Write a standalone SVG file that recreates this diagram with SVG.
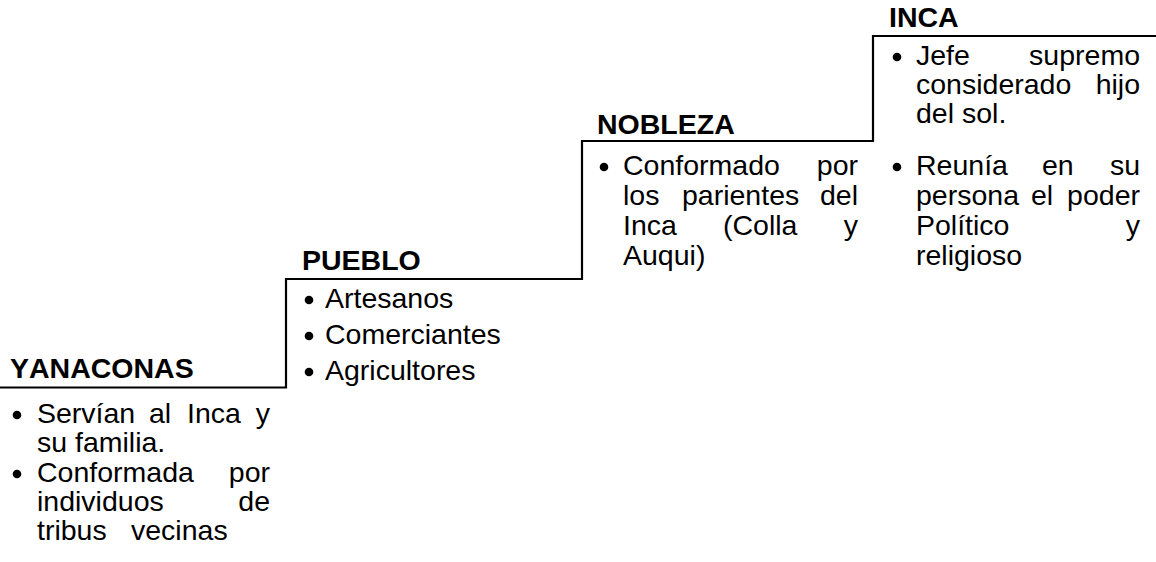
<svg xmlns="http://www.w3.org/2000/svg" width="1156" height="562" viewBox="0 0 1156 562">
<style>
text{font-family:"Liberation Sans",Arial,sans-serif;font-size:28.5px;fill:#000;font-kerning:none}
.h{font-weight:bold;font-size:28.5px}
.e{text-anchor:end}
.bul{fill:#000}
.step{fill:none;stroke:#000;stroke-width:2.2}
</style>
<rect width="1156" height="562" fill="#fff"/>
<g id="connectors">
<path class="step" d="M0,387.5 H286 V279 H582 V141 H873 V36 H1156"/>
</g>
<g id="yanaconas">
<text class="h" x="10" y="378">YANACONAS</text>
<circle class="bul" cx="17" cy="415" r="4.3"/>
<text y="423"><tspan x="37">Servían</tspan><tspan x="149">al</tspan><tspan x="187">Inca</tspan><tspan x="270" class="e">y</tspan></text>
<text x="37" y="452">su familia.</text>
<circle class="bul" cx="17" cy="474" r="4.3"/>
<text y="482"><tspan x="37">Conformada</tspan><tspan x="270" class="e">por</tspan></text>
<text y="511"><tspan x="37">individuos</tspan><tspan x="270" class="e">de</tspan></text>
<text y="540"><tspan x="37">tribus</tspan><tspan x="131">vecinas</tspan></text>
</g>
<g id="pueblo">
<text class="h" x="302" y="270">PUEBLO</text>
<circle class="bul" cx="309" cy="300" r="4.3"/>
<text x="325" y="308">Artesanos</text>
<circle class="bul" cx="309" cy="336" r="4.3"/>
<text x="325" y="344">Comerciantes</text>
<circle class="bul" cx="309" cy="372" r="4.3"/>
<text x="325" y="380">Agricultores</text>
</g>
<g id="nobleza">
<text class="h" x="597" y="134">NOBLEZA</text>
<circle class="bul" cx="604" cy="167" r="4.3"/>
<text y="175"><tspan x="623">Conformado</tspan><tspan x="858" class="e">por</tspan></text>
<text y="205"><tspan x="623">los</tspan><tspan x="682">parientes</tspan><tspan x="858" class="e">del</tspan></text>
<text y="235"><tspan x="623">Inca</tspan><tspan x="723">(Colla</tspan><tspan x="858" class="e">y</tspan></text>
<text x="623" y="265">Auqui)</text>
</g>
<g id="inca">
<text class="h" x="889" y="27">INCA</text>
<circle class="bul" cx="897" cy="57" r="4.3"/>
<text y="65"><tspan x="916">Jefe</tspan><tspan x="1140" class="e">supremo</tspan></text>
<text y="94"><tspan x="916">considerado</tspan><tspan x="1140" class="e">hijo</tspan></text>
<text x="916" y="123">del sol.</text>
<circle class="bul" cx="897" cy="167" r="4.3"/>
<text y="175"><tspan x="916">Reunía</tspan><tspan x="1042">en</tspan><tspan x="1140" class="e">su</tspan></text>
<text y="205"><tspan x="916">persona</tspan><tspan x="1031">el</tspan><tspan x="1140" class="e">poder</tspan></text>
<text y="235"><tspan x="916">Político</tspan><tspan x="1140" class="e">y</tspan></text>
<text x="916" y="265">religioso</text>
</g>
</svg>
